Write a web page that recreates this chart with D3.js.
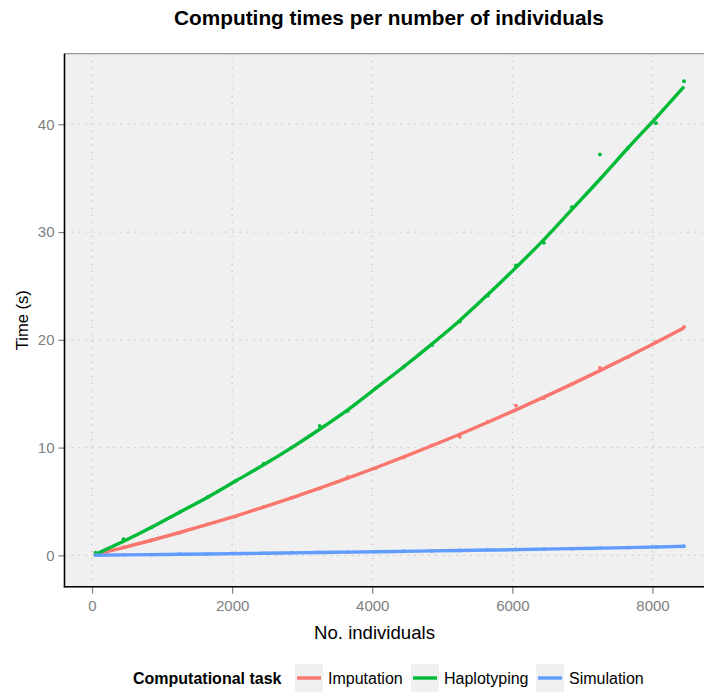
<!DOCTYPE html>
<html>
<head>
<meta charset="utf-8">
<script src="https://cdn.jsdelivr.net/npm/d3@7"></script>
<style>
  html, body { margin: 0; padding: 0; background: #ffffff; }
  svg { display: block; font-family: "Liberation Sans", Arial, sans-serif; }
</style>
</head>
<body>
<svg id="chart" width="704" height="693"></svg>
<script>
// ---- data ----
const individuals = [50, 450, 850, 1250, 1650, 2050, 2450, 2850, 3250, 3650, 4050,
                     4450, 4850, 5250, 5650, 6050, 6450, 6850, 7250, 7650, 8050, 8450];

const imputationTimes  = [0.1, 0.75, 1.4, 2.1, 2.9, 3.6, 4.5, 5.35, 6.2, 7.25, 8.1,
                          9.1, 10.2, 11.0, 12.4, 13.9, 14.6, 15.9, 17.4, 18.4, 19.8, 21.2];
const haplotypingTimes = [0.25, 1.5, 2.6, 4.0, 5.4, 6.9, 8.5, 10.0, 12.0, 13.4, 15.5,
                          17.5, 19.5, 21.7, 24.1, 26.9, 29.0, 32.3, 37.2, 37.8, 40.1, 44.0];
const simulationTimes  = [0.02, 0.05, 0.07, 0.1, 0.14, 0.17, 0.2, 0.24, 0.27, 0.3, 0.34,
                          0.38, 0.41, 0.45, 0.49, 0.55, 0.58, 0.62, 0.67, 0.72, 0.78, 0.85];

// smoothed trend lines as they appear in the picture
const imputationSmooth  = [0.1, 0.72, 1.4, 2.12, 2.87, 3.65, 4.48, 5.34, 6.23, 7.16, 8.13,
                           9.13, 10.17, 11.24, 12.35, 13.5, 14.68, 15.89, 17.14, 18.43, 19.76, 21.12];
const haplotypingSmooth = [0.1, 1.3, 2.6, 4.0, 5.4, 6.9, 8.4, 10.0, 11.7, 13.5, 15.5,
                           17.5, 19.6, 21.8, 24.2, 26.7, 29.3, 32.1, 34.9, 37.8, 40.6, 43.5];
const simulationSmooth  = [0.01, 0.04, 0.07, 0.1, 0.13, 0.16, 0.19, 0.23, 0.26, 0.3, 0.33,
                           0.37, 0.41, 0.45, 0.49, 0.53, 0.58, 0.62, 0.67, 0.72, 0.77, 0.84];

const seriesNames  = ["Imputation", "Haplotyping", "Simulation"];
const seriesColors = ["#F8766D", "#00BA38", "#619CFF"];
const xTicks = [0, 2000, 4000, 6000, 8000];
const yTicks = [0, 10, 20, 30, 40];

const chartTitle = "Computing times per number of individuals";
const xTitle = "No. individuals";
const yTitle = "Time (s)";
const legendTitle = "Computational task";

// ---- build ----
const series = [
  { name: seriesNames[0], color: seriesColors[0], pts: imputationTimes,  fit: imputationSmooth },
  { name: seriesNames[1], color: seriesColors[1], pts: haplotypingTimes, fit: haplotypingSmooth },
  { name: seriesNames[2], color: seriesColors[2], pts: simulationTimes,  fit: simulationSmooth }
];

const svg = d3.select("#chart");
const panel = { left: 64.5, right: 713.5, top: 53.7, bottom: 586.7 };

const x = d3.scaleLinear().domain([-393, 8871]).range([panel.left, panel.right]);
const y = d3.scaleLinear().domain([-2.91, 46.55]).range([panel.bottom, panel.top]);

// panel background
svg.append("rect")
  .attr("x", panel.left).attr("y", panel.top)
  .attr("width", panel.right - panel.left).attr("height", panel.bottom - panel.top)
  .attr("fill", "#f0f0f0").attr("stroke", "#7f7f7f").attr("stroke-width", 1);

// gridlines
const grid = svg.append("g");
grid.selectAll("line.v").data(xTicks).join("line")
  .attr("x1", d => x(d)).attr("x2", d => x(d))
  .attr("y1", panel.top).attr("y2", panel.bottom)
  .attr("stroke", "#c3c3c3").attr("stroke-width", 1.3).attr("stroke-dasharray", "1.3,5.7");
grid.selectAll("line.h").data(yTicks).join("line")
  .attr("y1", d => y(d)).attr("y2", d => y(d))
  .attr("x1", panel.left).attr("x2", panel.right)
  .attr("stroke", "#c3c3c3").attr("stroke-width", 1.3).attr("stroke-dasharray", "1.3,5.7");

// axes
const xAxis = svg.append("g").attr("transform", `translate(0,${panel.bottom})`)
  .call(d3.axisBottom(x).tickValues(xTicks).tickFormat(d3.format("d")).tickSize(7).tickPadding(7));
const yAxis = svg.append("g").attr("transform", `translate(${panel.left},0)`)
  .call(d3.axisLeft(y).tickValues(yTicks).tickFormat(d3.format("d")).tickSize(6).tickPadding(4));
[xAxis, yAxis].forEach(a => {
  a.select(".domain").remove();
  a.selectAll(".tick line").attr("stroke", "#7f7f7f").attr("stroke-width", 1.2);
  a.selectAll(".tick text").attr("fill", "#7f7f7f")
    .style("font-family", "'Liberation Sans', Arial, sans-serif").style("font-size", "15px");
});

// axis lines (black, left & bottom)
svg.append("line").attr("x1", panel.left).attr("x2", panel.left)
  .attr("y1", panel.top).attr("y2", panel.bottom + 0.7)
  .attr("stroke", "#000").attr("stroke-width", 1.6);
svg.append("line").attr("x1", panel.left - 0.7).attr("x2", panel.right)
  .attr("y1", panel.bottom).attr("y2", panel.bottom)
  .attr("stroke", "#000").attr("stroke-width", 1.6);

// clip
svg.append("clipPath").attr("id", "clip").append("rect")
  .attr("x", panel.left).attr("y", panel.top)
  .attr("width", panel.right - panel.left).attr("height", panel.bottom - panel.top);

const plot = svg.append("g").attr("clip-path", "url(#clip)");

// points
series.forEach(s => {
  plot.append("g").selectAll("circle").data(s.pts).join("circle")
    .attr("cx", (d, i) => x(individuals[i]))
    .attr("cy", d => y(d))
    .attr("r", 1.9)
    .attr("fill", s.color);
});

// smooth lines
const line = d3.line().x(d => x(d[0])).y(d => y(d[1])).curve(d3.curveMonotoneX);
series.forEach(s => {
  plot.append("path")
    .datum(individuals.map((v, i) => [v, s.fit[i]]))
    .attr("d", line)
    .attr("fill", "none")
    .attr("stroke", s.color)
    .attr("stroke-width", 3.4)
    .attr("stroke-linecap", "butt");
});

// titles
svg.append("text").attr("x", (panel.left + panel.right) / 2).attr("y", 25)
  .attr("text-anchor", "middle").attr("font-weight", "bold").attr("font-size", "20.8px")
  .attr("fill", "#000").text(chartTitle);
svg.append("text").attr("x", 374.5).attr("y", 639)
  .attr("text-anchor", "middle").attr("font-size", "18.6px").attr("fill", "#000").text(xTitle);
svg.append("text").attr("transform", `translate(28,${(panel.top + panel.bottom) / 2}) rotate(-90)`)
  .attr("text-anchor", "middle").attr("font-size", "16.5px").attr("fill", "#000").text(yTitle);

// legend
const legY = 678;
svg.append("text").attr("x", 133).attr("y", legY).attr("dy", "0.35em")
  .attr("font-weight", "bold").attr("font-size", "16px").attr("fill", "#000").text(legendTitle);
const keyX = [295, 411, 536];
series.forEach((s, i) => {
  const g = svg.append("g").attr("transform", `translate(${keyX[i]},${legY - 14})`);
  g.append("rect").attr("width", 28).attr("height", 28).attr("fill", "#f0f0f0");
  g.append("line").attr("x1", 2).attr("x2", 26).attr("y1", 14).attr("y2", 14)
    .attr("stroke", s.color).attr("stroke-width", 3.4);
  svg.append("text").attr("x", keyX[i] + 33).attr("y", legY).attr("dy", "0.35em")
    .attr("font-size", "16px").attr("fill", "#000").text(s.name);
});
</script>
</body>
</html>
